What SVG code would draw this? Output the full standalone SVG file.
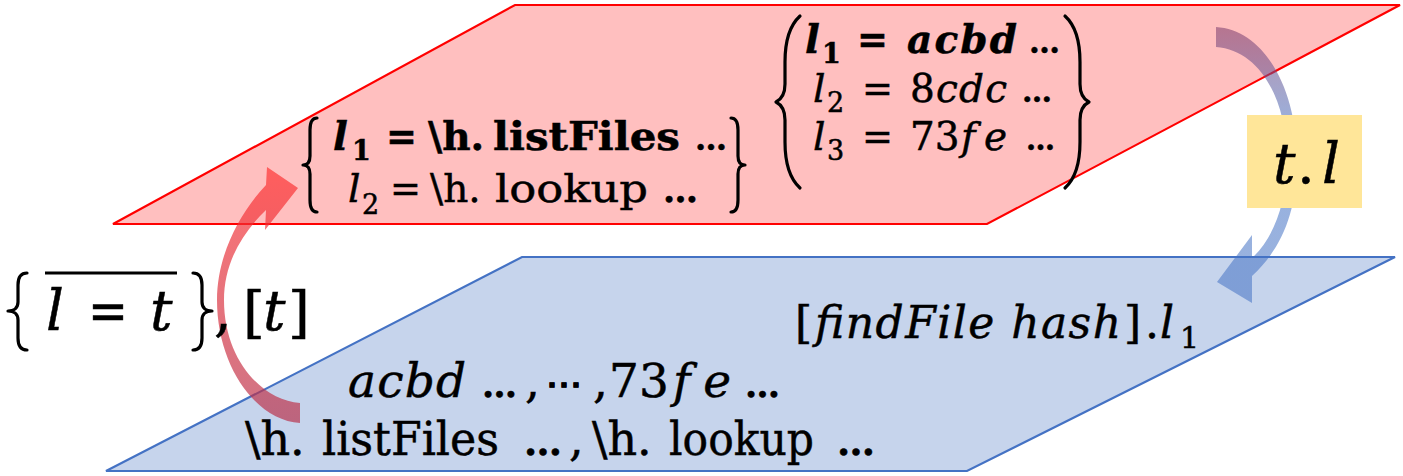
<svg xmlns="http://www.w3.org/2000/svg" width="1403" height="476" viewBox="0 0 1403 476">
<style>
text{font-family:"DejaVu Serif","Liberation Serif",serif;fill:#000;stroke:#000;stroke-width:0.5}
.it{font-style:italic}
.b{font-weight:bold}
.el{font-weight:bold;font-style:normal}
.brace{fill:none;stroke:#000;stroke-width:3.2;stroke-linecap:round;stroke-linejoin:round}
.s38{font-size:39px}
.s26{font-size:27px}
.s44{font-size:44px}
.s46{font-size:46px}
.s56{font-size:56px}
</style>
<defs>
<linearGradient id="gRed" gradientUnits="userSpaceOnUse" x1="0" y1="420" x2="0" y2="170">
<stop offset="0" stop-color="#B8304A"/>
<stop offset="1" stop-color="#FF3030"/>
</linearGradient>
<linearGradient id="gBlue" gradientUnits="userSpaceOnUse" x1="0" y1="30" x2="0" y2="130">
<stop offset="0" stop-color="#7A3A6C"/>
<stop offset="1" stop-color="#4472C4"/>
</linearGradient>
</defs>
<g id="plane-bottom">
<polygon points="522,257 1395,257 967,471 106,471" fill="#C6D4EC" stroke="#4472C4" stroke-width="2.2"/>
</g>
<g id="plane-top">
<polygon points="515,5 1400,5 987,224 113,224" fill="#FFBFBF" stroke="#FF0000" stroke-width="2.2"/>
</g>
<g id="connectors">
<path id="arrow-up" d="M300,403 C262,400 224,360 224,300 C224,265 240,235 266,210 L265,230 L298,188 L267,167 L266,185 C240,212 217,255 217,300 C217,365 255,420 300,423 Z" fill="url(#gRed)" fill-opacity="0.68"/>
<path id="arrow-down" d="M1216,27 C1265,30 1297,90 1297,160 C1297,215 1280,250 1252,276 L1252,303 L1217,282 L1252,235 L1252,258 C1272,240 1287,205 1287,160 C1287,100 1260,50 1216,47 Z" fill="url(#gBlue)" fill-opacity="0.55"/>
</g>
<g id="label-tl">
<rect x="1247" y="115" width="115" height="93" fill="#FFE699"/>
<text class="s56"><tspan class="it" x="1273" y="183">t</tspan><tspan x="1297" y="183">.</tspan><tspan class="it" x="1322" y="183">l</tspan></text>
</g>
<g id="record-functions">
<path class="brace" d="M317,118 C311,118 310,124 310,130 L310,156 C310,161 308,165 303,165 C308,165 310,169 310,174 L310,200 C310,206 311,212 317,212"/>
<path class="brace" d="M731,118 C737,118 738,124 738,130 L738,156 C738,161 740,165 745,165 C740,165 738,169 738,174 L738,200 C738,206 737,212 731,212"/>
<text class="s38 b"><tspan class="it" x="333" y="150">l</tspan><tspan class="s26" x="352" y="160">1</tspan><tspan x="386" y="150" textLength="31" lengthAdjust="spacingAndGlyphs">=</tspan><tspan x="428" y="150">\h.</tspan><tspan x="493" y="150" textLength="187" lengthAdjust="spacingAndGlyphs">listFiles</tspan><tspan class="el" font-size="32" x="695" y="150">…</tspan></text>
<text class="s38"><tspan class="it" x="348" y="202">l</tspan><tspan class="s26" x="362" y="214">2</tspan><tspan x="390" y="202" textLength="31" lengthAdjust="spacingAndGlyphs">=</tspan><tspan x="430" y="202">\h.</tspan><tspan x="495" y="202" textLength="153" lengthAdjust="spacingAndGlyphs">lookup</tspan><tspan class="el" font-size="35" x="663" y="202">…</tspan></text>
</g>
<g id="record-hashes">
<path class="brace" d="M800,16 C789,26 785,42 785,62 L785,84 C785,94 782,99 776,102 C782,105 785,110 785,120 L785,142 C785,162 789,178 800,188"/>
<path class="brace" d="M1065,16 C1076,26 1080,42 1080,62 L1080,84 C1080,94 1083,99 1089,102 C1083,105 1080,110 1080,120 L1080,142 C1080,162 1076,178 1065,188"/>
<text class="s38 b"><tspan class="it" x="805" y="53">l</tspan><tspan class="s26" x="822" y="63">1</tspan><tspan x="857" y="53" textLength="31" lengthAdjust="spacingAndGlyphs">=</tspan><tspan class="it" x="907" y="53" textLength="110" lengthAdjust="spacing">acbd</tspan><tspan class="el" font-size="31" x="1029" y="53">…</tspan></text>
<text class="s38"><tspan class="it" x="813" y="102">l</tspan><tspan class="s26" x="827" y="112">2</tspan><tspan x="862" y="102" textLength="31" lengthAdjust="spacingAndGlyphs">=</tspan><tspan x="910" y="102">8</tspan><tspan class="it" x="936" y="102" textLength="71" lengthAdjust="spacing">cdc</tspan><tspan class="el" font-size="30" x="1022" y="102">…</tspan></text>
<text class="s38"><tspan class="it" x="813" y="150">l</tspan><tspan class="s26" x="827" y="160">3</tspan><tspan x="862" y="150" textLength="31" lengthAdjust="spacingAndGlyphs">=</tspan><tspan x="910" y="150">73</tspan><tspan class="it" x="961" y="150" textLength="46" lengthAdjust="spacing">fe</tspan><tspan class="el" font-size="29" x="1026" y="150">…</tspan></text>
</g>
<g id="label-record">
<path class="brace" d="M27,273 C20,273 18,279 18,285 L18,302 C18,307 15,311 8,311 C15,311 18,315 18,320 L18,338 C18,344 20,350 27,350"/>
<line x1="45" y1="273" x2="177" y2="273" stroke="#000" stroke-width="3"/>
<path class="brace" d="M193,273 C200,273 202,279 202,285 L202,302 C202,307 205,311 212,311 C205,311 202,315 202,320 L202,338 C202,344 200,350 193,350"/>
<text class="s56"><tspan class="it" x="46" y="330">l</tspan><tspan x="88" y="330" textLength="40" lengthAdjust="spacingAndGlyphs">=</tspan><tspan class="it" x="150" y="330">t</tspan><tspan x="214" y="330">,</tspan><tspan x="243" y="332">[</tspan><tspan class="it" x="263" y="330">t</tspan><tspan x="288" y="332">]</tspan></text>
</g>
<g id="lookup-expr">
<text class="s44"><tspan x="795" y="338">[</tspan><tspan class="it" x="815" y="338" textLength="306" lengthAdjust="spacing">findFile hash</tspan><tspan x="1124" y="338">]</tspan><tspan x="1145" y="338">.</tspan><tspan class="it" x="1160" y="338">l</tspan><tspan font-size="30" x="1180" y="348">1</tspan></text>
</g>
<g id="values">
<text font-size="47"><tspan class="it" x="348" y="397" textLength="118" lengthAdjust="spacing">acbd</tspan><tspan class="el" font-size="35" x="482" y="397">…</tspan><tspan x="525" y="397">,</tspan><tspan class="el" font-size="36" x="546" y="397">⋯</tspan><tspan x="593" y="397">,</tspan><tspan x="609" y="397">73</tspan><tspan class="it" x="673" y="397" textLength="58" lengthAdjust="spacing">fe</tspan><tspan class="el" font-size="35" x="745" y="397">…</tspan></text>
<text class="s46"><tspan x="245" y="455">\h.</tspan><tspan x="322" y="455" textLength="177" lengthAdjust="spacingAndGlyphs">listFiles</tspan><tspan class="el" font-size="38" x="524" y="455">…</tspan><tspan x="569" y="455">,</tspan><tspan x="592" y="455">\h.</tspan><tspan x="669" y="455" textLength="145" lengthAdjust="spacingAndGlyphs">lookup</tspan><tspan class="el" font-size="38" x="837" y="455">…</tspan></text>
</g>
</svg>
